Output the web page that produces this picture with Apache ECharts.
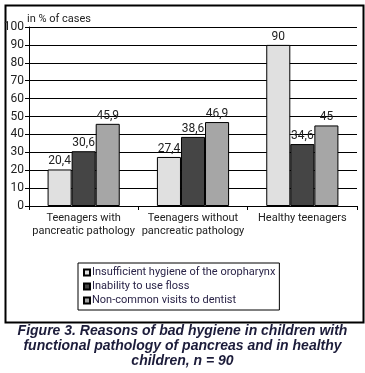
<!DOCTYPE html>
<html><head><meta charset="utf-8">
<script src="https://cdn.jsdelivr.net/npm/echarts@6/dist/echarts.min.js"></script>
<style>html,body{margin:0;padding:0;background:#fff}#c{width:365px;height:373px}</style>
</head><body><div id="c"></div>
<script>
const categories = ['Teenagers with\npancreatic pathology', 'Teenagers without\npancreatic pathology', 'Healthy teenagers'];
const seriesNames = ['Insufficient hygiene of the oropharynx', 'Inability to use floss', 'Non-common visits to dentist'];
const hygiene = [20.4, 27.4, 90];
const floss = [30.6, 38.6, 34.6];
const dentist = [45.9, 46.9, 45];
const yTicks = [0, 10, 20, 30, 40, 50, 60, 70, 80, 90, 100];
const colors = ['#e0e0e0', '#454545', '#a6a6a6'];
const FONT = 'Roboto, "Liberation Sans", sans-serif';

const chart = echarts.init(document.getElementById('c'));
const values = [hygiene, floss, dentist];
chart.setOption({
  animation: false,
  textStyle: { fontFamily: FONT },
  title: { text: 'in % of cases', left: 22, top: 9, textStyle: { fontSize: 11, fontWeight: 'normal', color: '#222', fontFamily: FONT } },
  legend: {
    orient: 'vertical', left: 78, top: 263, width: 195,
    padding: [4, 4, 4, 5], itemGap: 3, itemWidth: 6, itemHeight: 6,
    icon: 'rect', borderColor: '#000', borderWidth: 1,
    textStyle: { fontSize: 11, color: '#2a2448', fontFamily: FONT, padding: [0, 0, 0, -3] },
    data: seriesNames
  },
  grid: { left: 29, right: 8, top: 27, bottom: 167 },
  xAxis: {
    type: 'category', data: categories,
    axisLine: { lineStyle: { color: '#000', width: 1 } },
    axisTick: { show: true, length: 4, lineStyle: { color: '#000' } },
    axisLabel: { fontSize: 11, color: '#222', lineHeight: 13, margin: 6, fontFamily: FONT, interval: 0 }
  },
  yAxis: {
    type: 'value', min: 0, max: 100, interval: 10,
    axisLine: { show: true, lineStyle: { color: '#000' } },
    axisTick: { show: true, length: 4, lineStyle: { color: '#000' } },
    axisLabel: { fontSize: 12, color: '#222', margin: 5, fontFamily: FONT,
      formatter: v => yTicks.includes(v) ? String(v) : '' },
    splitLine: { show: true, lineStyle: { color: '#000', width: 1 } }
  },
  series: values.map((d, i) => ({
    name: seriesNames[i], type: 'bar', data: d,
    barGap: '0%', barCategoryGap: '34%',
    itemStyle: { color: colors[i], borderColor: '#000', borderWidth: 1 },
    label: { show: true, position: 'top', distance: 2, fontSize: 12, color: '#222', fontFamily: FONT,
      formatter: p => String(p.value).replace('.', ',') }
  })),
  graphic: [
    { type: 'rect', left: 3, top: 3, shape: { width: 358, height: 317 }, style: { fill: 'none', stroke: '#000', lineWidth: 2 }, silent: true },
    { type: 'text', left: 'center', top: 324, style: {
      text: 'Figure 3. Reasons of bad hygiene in children with\nfunctional pathology of pancreas and in healthy\nchildren, n = 90',
      font: 'italic bold 14px "Liberation Sans", Arial, sans-serif', fill: '#1c1c3a', textAlign: 'center', lineHeight: 15 } }
  ]
});
</script></body></html>
